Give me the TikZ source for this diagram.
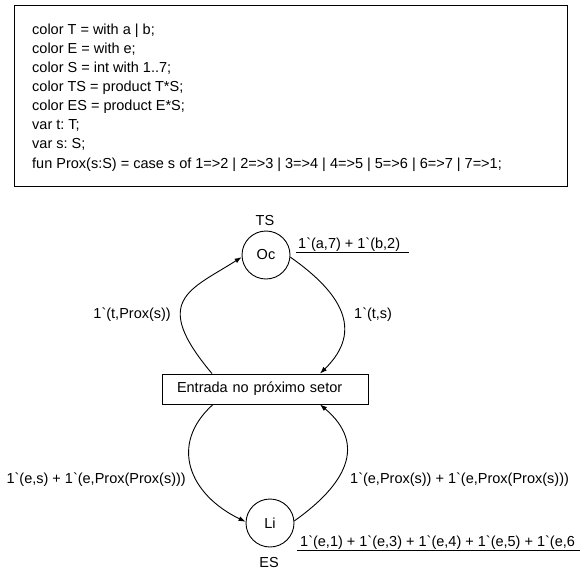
\documentclass[tikz,border=0pt]{standalone}
\usepackage{fontspec}
\setmainfont{Liberation Sans}
\usetikzlibrary{arrows.meta}
\newcommand{\tk}{\textasciigrave}
\frenchspacing
\begin{document}
\begin{tikzpicture}[x=1pt,y=-1pt,
  txt/.style={font=\fontsize{14.5}{17}\selectfont, inner sep=0pt},
  codeline/.style={txt, anchor=base west},
  place/.style={draw, circle, minimum size=48pt, inner sep=0pt, line width=0.9pt, font=\fontsize{14.5}{17}\selectfont},
  trans/.style={draw, rectangle, minimum height=30pt, text width=176pt, align=left, inner xsep=15pt, inner ysep=0pt, line width=0.9pt, font=\fontsize{14.5}{17}\selectfont},
  arc/.style={line width=0.9pt, -{Latex[length=7pt,width=5pt]}},
  uline/.style={line width=0.9pt}]
\useasboundingbox (0,0) rectangle (580,571);

% declaration box
\node[draw, line width=1pt, minimum width=553pt, minimum height=181pt, inner sep=0pt, anchor=north west] (code) at (14,5) {};
\node[codeline] (l1) at (32,34) {color T = with a | b;};
\node[codeline] (l2) at (32,53.1) {color E = with e;};
\node[codeline] (l3) at (32,72.3) {color S = int with 1..7;};
\node[codeline] (l4) at (32,91.4) {color TS = product T*S;};
\node[codeline] (l5) at (32,110.6) {color ES = product E*S;};
\node[codeline] (l6) at (32,129.7) {var t: T;};
\node[codeline] (l7) at (32,148.9) {var s: S;};
\node[codeline] (l8) at (32,168) {fun Prox(s:S) = case s of 1=>2 | 2=>3 | 3=>4 | 4=>5 | 5=>6 | 6=>7 | 7=>1;};

% net
\node[place] (Oc) at (266,255) {Oc};
\node[place] (Li) at (270,523) {Li};
\node[trans] (T) at (265,389) {Entrada no próximo setor};

\node[txt] (TS) at (265,221) {TS};
\node[txt] (ES) at (269,562) {ES};

\node[txt, anchor=base west] (m1) at (298,248) {1\tk(a,7) + 1\tk(b,2)};
\draw[uline] (296,252) -- (409,252);
\node[txt, anchor=base west] (m2) at (300,546) {1\tk(e,1) + 1\tk(e,3) + 1\tk(e,4) + 1\tk(e,5) + 1\tk(e,6};
\draw[uline] (297,550) -- (580,550);

\draw[arc] ([xshift=-53pt]T.north) .. controls (150,300) and (190,290) .. (Oc.185);
\draw[arc] (Oc.-5) .. controls (340,292) and (365,330) .. ([xshift=55pt]T.north);
\draw[arc] ([xshift=-52pt]T.south) .. controls (168,445) and (190,495) .. (Li.177);
\draw[arc] (Li.5) .. controls (345,485) and (368,445) .. ([xshift=55pt]T.south);

\node[txt, anchor=east] (a1) at (171,315) {1\tk(t,Prox(s))};
\node[txt, anchor=west] (a2) at (354,315) {1\tk(t,s)};
\node[txt, anchor=east] (a3) at (186,480) {1\tk(e,s) + 1\tk(e,Prox(Prox(s)))};
\node[txt, anchor=west] (a4) at (350,480) {1\tk(e,Prox(s)) + 1\tk(e,Prox(Prox(s)))};
\end{tikzpicture}
\end{document}
